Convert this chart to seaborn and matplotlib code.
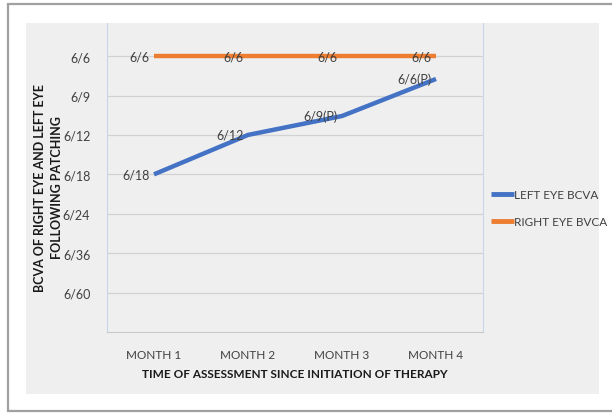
import numpy as np
import pandas as pd
import matplotlib
matplotlib.use("Agg")
import matplotlib.pyplot as plt
import seaborn as sns
from matplotlib.patches import Rectangle

# --- data ---
months = ["MONTH 1", "MONTH 2", "MONTH 3", "MONTH 4"]
acuity_ticks = ["6/6", "6/9", "6/12", "6/18", "6/24", "6/36", "6/60"]
left_eye = [4.0, 3.0, 2.52, 1.58]      # position on the acuity scale (1 = 6/6)
right_eye = [1.0, 1.0, 1.0, 1.0]
left_labels = ["6/18", "6/12", "6/9(P)", "6/6(P)"]
right_labels = ["6/6", "6/6", "6/6", "6/6"]

df = pd.DataFrame({
    "month": list(range(len(months))) * 2,
    "bcva": left_eye + right_eye,
    "eye": ["LEFT EYE BCVA"] * 4 + ["RIGHT EYE BVCA"] * 4,
})

sns.set_style("white")
plt.rcParams["font.family"] = ["Lato", "DejaVu Sans"]

fig = plt.figure(figsize=(6.12, 4.14), dpi=100)

# outer frame and grey chart area
fig.patches.append(Rectangle((8 / 612, 1 - 412 / 414), 1.0, (412 - 5) / 414,
                             transform=fig.transFigure, facecolor="white",
                             edgecolor="#a0a0a0", linewidth=1.6, zorder=-10))
fig.patches.append(Rectangle((26 / 612, 1 - 395 / 414), (599 - 26) / 612, (395 - 24) / 414,
                             transform=fig.transFigure, facecolor="#efefef",
                             edgecolor="none", zorder=-9))

ax = fig.add_axes([107 / 612, 1 - 333 / 414, (483 - 107) / 612, (333 - 24) / 414])
ax.set_facecolor("none")

sns.lineplot(data=df, x="month", y="bcva", hue="eye",
             palette=["#4472C4", "#ED7D31"], linewidth=3.2, ax=ax,
             solid_capstyle="butt")

for i in range(len(months)):
    ax.text(i - 0.05, left_eye[i], left_labels[i], ha="right", va="center",
            fontsize=9, color="#404040")
    ax.text(i - 0.05, right_eye[i], right_labels[i], ha="right", va="center",
            fontsize=9, color="#404040")

ax.set_xlim(-0.5, 3.5)
ax.set_ylim(8, 0.16)
ax.set_yticks(range(1, 8))
ax.set_yticklabels(acuity_ticks, fontsize=9, color="#404040")
ax.set_xticks(range(4))
ax.set_xticklabels(months, fontsize=8.5, color="#404040")
ax.set_xticks(np.arange(-0.5, 4, 1), minor=True)
ax.tick_params(axis="x", which="major", length=0, pad=12)
ax.tick_params(axis="x", which="minor", length=4, color="#c8c8c8", direction="in")
ax.tick_params(axis="y", length=0, pad=12)
ax.yaxis.grid(True, color="#d2d2d2", linewidth=0.9)
ax.set_axisbelow(True)

for side in ["left", "right"]:
    ax.spines[side].set_color("#c9d5ea")
    ax.spines[side].set_linewidth(0.8)
ax.spines["top"].set_visible(False)
ax.spines["bottom"].set_color("#c8c8c8")

ax.set_xlabel("TIME OF ASSESSMENT SINCE INITIATION OF THERAPY",
              fontsize=8.5, fontweight="bold", color="#1a1a1a", labelpad=6)
ax.set_ylabel("BCVA OF RIGHT EYE AND LEFT EYE\nFOLLOWING PATCHING",
              fontsize=9, fontweight="bold", color="#1a1a1a",
              linespacing=1.5)
ax.yaxis.set_label_coords(-0.118, 0.47)

ax.legend(loc="upper left", bbox_to_anchor=(1.0, 0.49), frameon=False,
          fontsize=8.5, handlelength=1.9, handletextpad=0.0, labelspacing=1.4,
          borderaxespad=0.3, labelcolor="#404040")
for line in ax.get_legend().get_lines():
    line.set_linewidth(3.5)

fig.savefig("out.png", dpi=100)
